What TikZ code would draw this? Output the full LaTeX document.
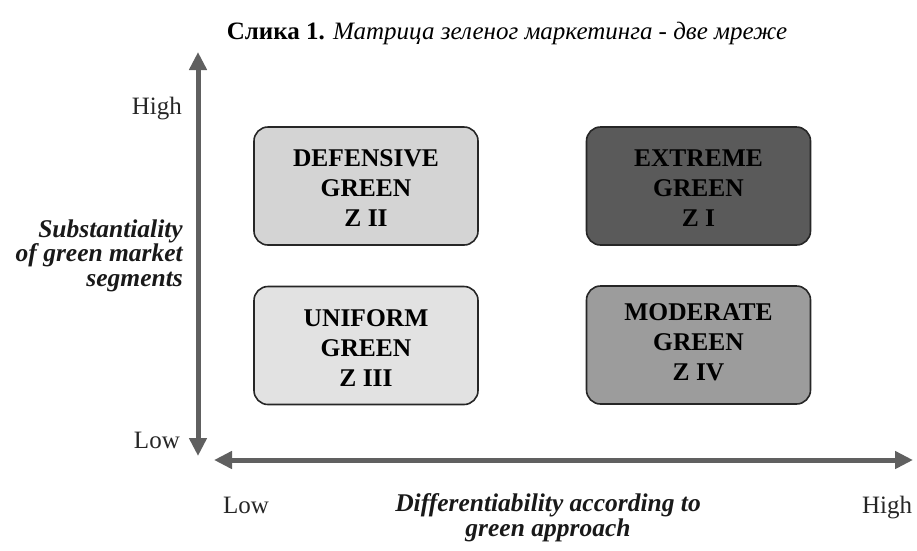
\documentclass[tikz,border=0pt]{standalone}
\usepackage{fontspec}
\setmainfont{Liberation Serif}
\usetikzlibrary{arrows.meta}
\definecolor{axisgray}{HTML}{606060}
\definecolor{fillA}{HTML}{D4D4D4}
\definecolor{fillB}{HTML}{5A5A5A}
\definecolor{fillC}{HTML}{E2E2E2}
\definecolor{fillD}{HTML}{9C9C9C}
\definecolor{edgegray}{HTML}{262626}
\tikzset{
  quad/.style={draw=edgegray, line width=1.6pt, rounded corners=14pt, minimum width=224pt, minimum height=118pt, inner sep=0pt},
  quadtext/.style={font=\fontsize{25.5}{30}\selectfont\bfseries, align=center, anchor=base, text=black},
  axis/.style={draw=axisgray, line width=5pt, {Triangle[length=18pt,width=17pt]}-{Triangle[length=18pt,width=17pt]}},
  lbl/.style={font=\fontsize{25}{25}\selectfont, anchor=base, inner sep=0pt, text=black!85},
  axlbl/.style={font=\fontsize{25.5}{24.5}\selectfont\bfseries\itshape, inner sep=0pt, text=black!90},
}
\begin{document}
\begin{tikzpicture}[x=1pt,y=-1pt]
\useasboundingbox (0,0) rectangle (917,550);
\node[font=\fontsize{25}{27}\selectfont, anchor=base] (title) at (507,39) {\textbf{Слика 1.} \textit{Матрица зеленог маркетинга - две мреже}};
% boxes
\node[quad, fill=fillA] (zii) at (366,186) {};
\node[quad, fill=fillB] (zi) at (698.5,186) {};
\node[quad, fill=fillC] (ziii) at (366,345.5) {};
\node[quad, fill=fillD] (ziv) at (698.5,345) {};
\node[quadtext] (tii) at (366,226) {DEFENSIVE\\GREEN\\Z II};
\node[quadtext] (ti) at (698.5,226) {EXTREME\\GREEN\\Z I};
\node[quadtext] (tiii) at (366,386) {UNIFORM\\GREEN\\Z III};
\node[quadtext] (tiv) at (698.5,380) {MODERATE\\GREEN\\Z IV};
% axes
\coordinate (vtop) at (198,52);
\coordinate (vbot) at (198,456);
\coordinate (hleft) at (214,460);
\coordinate (hright) at (913,460);
\draw[axis] (vbot) -- (vtop);
\draw[axis] (hleft) -- (hright);
% labels
\node[lbl, anchor=base east] (yhigh) at (182,114) {High};
\node[lbl, anchor=base east] (ylow) at (180,448) {Low};
\node[lbl, anchor=base] (xlow) at (246,513) {Low};
\node[lbl, anchor=base] (xhigh) at (887,513) {High};
\node[axlbl, align=right, anchor=base east] (ylab) at (183,286) {Substantiality\\of green market\\segments};
\node[axlbl, align=center, anchor=base] (xlab) at (548,536) {Differentiability according to\\green approach};
\end{tikzpicture}
\end{document}
